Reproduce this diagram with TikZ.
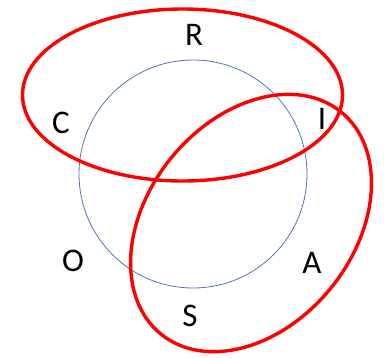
\documentclass[tikz,border=0pt]{standalone}
\usepackage{fontspec}
\setmainfont{Carlito}
\begin{document}
\begin{tikzpicture}[x=1pt, y=-1pt]
    % Colours and styles used below
    \definecolor{ringblue}{RGB}{84,116,180}
    \tikzset{
        letter/.style={font=\fontsize{33}{40}\selectfont, inner sep=0pt},
        redloop/.style={draw=red, line width=3.4pt},
    }
    \useasboundingbox (0,0) rectangle (390,357);

    % Thin blue circle in the middle
    \draw[ringblue, line width=0.8pt] (193,174) circle (114);

    % The two red loops
    \draw[redloop] (182.5,95) ellipse [x radius=160, y radius=86];
    \draw[redloop, rotate around={51:(251,223)}] (251,223) ellipse [x radius=143, y radius=103];

    % Letters
    \node[letter] (r) at (194,35) {R};
    \node[letter] (c) at (61,123) {C};
    \node[letter] (i) at (322,119) {I};
    \node[letter] (o) at (73,261) {O};
    \node[letter] (a) at (312,263) {A};
    \node[letter] (s) at (190,316) {S};
\end{tikzpicture}
\end{document}
